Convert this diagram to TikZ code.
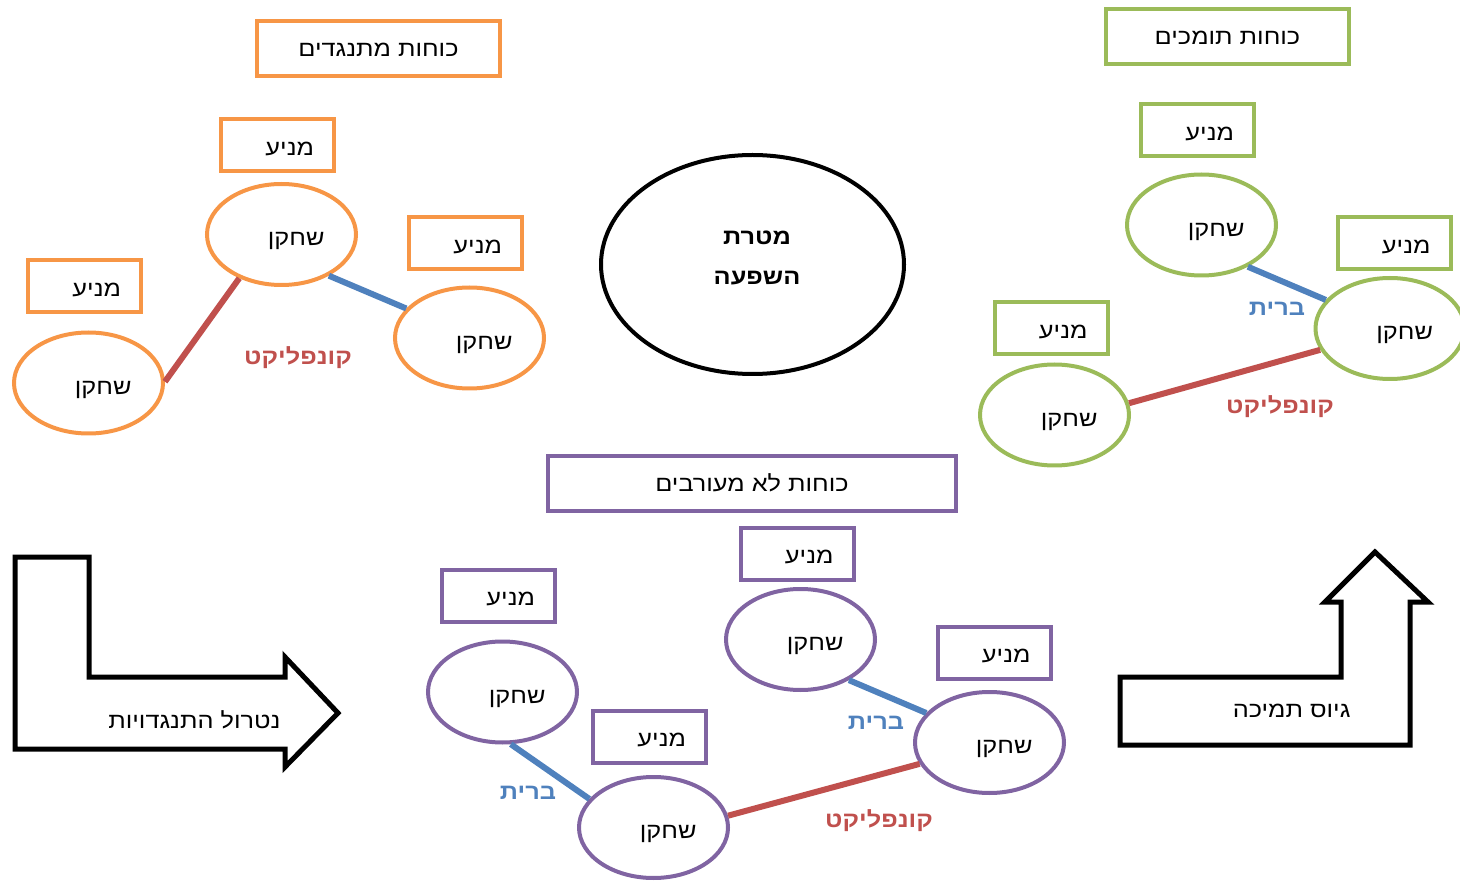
\documentclass[tikz,border=0pt]{standalone}
\usepackage{fontspec}
\setmainfont{Liberation Sans}
\newfontfamily\heb[Script=Hebrew,FakeStretch=1.15]{Liberation Sans}
\TeXXeTstate=1
\usetikzlibrary{shapes.geometric}
\definecolor{orng}{HTML}{F79646}
\definecolor{grn}{HTML}{9BBB59}
\definecolor{prp}{HTML}{8064A2}
\definecolor{conred}{HTML}{C0504D}
\definecolor{allyblue}{HTML}{4F81BD}
\begin{document}
\begin{tikzpicture}[x=1pt,y=-1pt,
  txt/.style={font=\heb\fontsize{22}{26}\selectfont},
  mbox/.style={draw=#1, line width=4pt, minimum width=113pt, minimum height=52pt,
     text width=73pt, align=right, inner xsep=20pt, inner ysep=0pt,
     text height=21pt, text depth=0.5pt, txt},
  tbox/.style={draw=#1, line width=4pt, minimum height=55pt, inner sep=0pt,
     text height=17pt, text depth=1.5pt, txt},
  player/.style={ellipse, draw=#1, line width=4pt, minimum width=149pt, minimum height=101pt,
     text width=86pt, align=right, inner sep=0pt, text height=23pt, text depth=0.5pt, txt},
  conflict/.style={draw=conred, line width=6pt},
  ally/.style={draw=allyblue, line width=6pt},
  conlbl/.style={font=\heb\bfseries\fontsize{22}{26}\selectfont, text=conred},
  allylbl/.style={font=\heb\bfseries\fontsize{22}{26}\selectfont, text=allyblue},
  bigarrow/.style={draw=black, line width=5pt, line join=miter, fill=white}
]
\useasboundingbox (0,0) rectangle (1460,882);
\clip (0,0) rectangle (1460,882);

% ---------- opposing forces (orange)
\node[tbox=orng, minimum width=243pt] (otitle) at (378.5,48.5) {\beginR כוחות מתנגדים\endR};
\node[mbox=orng] (om1) at (277.5,145) {\beginR מניע\endR};
\node[mbox=orng] (om2) at (465.5,243.5) {\beginR מניע\endR};
\node[mbox=orng] (om3) at (84.5,286.5) {\beginR מניע\endR};
\node[player=orng] (op1) at (281.5,234.5) {\beginR שחקן\endR};
\node[player=orng] (op2) at (469.5,338) {\beginR שחקן\endR};
\node[player=orng] (op3) at (88.5,383) {\beginR שחקן\endR};
\draw[conflict] (op1.226) -- (op3.1);
\draw[ally] (op1.319) -- (op2.155);
\node[conlbl] (oc) at (298,358) {\beginR קונפליקט\endR};

% ---------- centre
\node[ellipse, draw=black, line width=4pt, minimum width=303pt, minimum height=219pt] (goal) at (752.5,264.5) {};
\node[align=center, font=\heb\bfseries\fontsize{22}{40}\selectfont] (goaltext) at (757,257.5)
  {\beginR מטרת\endR\\\beginR השפעה\endR};

% ---------- supporting forces (green)
\node[tbox=grn, minimum width=243pt] (gtitle) at (1227.5,36.5) {\beginR כוחות תומכים\endR};
\node[mbox=grn] (gmA) at (1197.5,130.5) {\beginR מניע\endR};
\node[mbox=grn] (gmB) at (1394,243) {\beginR מניע\endR};
\node[mbox=grn] (gmC) at (1051,328.5) {\beginR מניע\endR};
\node[player=grn] (gpA) at (1201.5,225) {\beginR שחקן\endR};
\node[player=grn] (gpB) at (1390,328.5) {\beginR שחקן\endR};
\node[player=grn] (gpC) at (1054.5,415) {\beginR שחקן\endR};
\draw[ally] (gpA.318) -- (gpB.156);
\draw[conflict] (gpC.9) -- (gpB.197);
\node[allylbl] (ga) at (1277,309) {\beginR ברית\endR};
\node[conlbl] (gc) at (1280,407) {\beginR קונפליקט\endR};

% ---------- uninvolved forces (purple)
\node[tbox=prp, minimum width=408pt] (ptitle) at (752,483.5) {\beginR כוחות לא מעורבים\endR};
\node[mbox=prp] (pmT) at (797,553.5) {\beginR מניע\endR};
\node[mbox=prp] (pmR) at (994,652.5) {\beginR מניע\endR};
\node[mbox=prp] (pmL) at (498.5,595.5) {\beginR מניע\endR};
\node[mbox=prp] (pmB) at (649.5,736.5) {\beginR מניע\endR};
\node[player=prp] (ppT) at (800.5,639.5) {\beginR שחקן\endR};
\node[player=prp] (ppR) at (989.5,742.5) {\beginR שחקן\endR};
\node[player=prp] (ppL) at (502.5,692) {\beginR שחקן\endR};
\node[player=prp] (ppB) at (653.5,827.5) {\beginR שחקן\endR};
\draw[ally] (ppT.320) -- (ppR.155);
\draw[ally] (ppL.279) -- (ppB.156);
\draw[conflict] (ppB.9) -- (ppR.197);
\node[allylbl] (pa1) at (876,723) {\beginR ברית\endR};
\node[allylbl] (pa2) at (528,793) {\beginR ברית\endR};
\node[conlbl] (pc) at (879,821) {\beginR קונפליקט\endR};

% ---------- bent arrows
\draw[bigarrow] (15,557) -- (89,557) -- (89,677) -- (285,677) -- (285,657) -- (338,713)
  -- (285,767) -- (285,749) -- (15,749) -- cycle;
\node[txt, anchor=east] (neut) at (284,719.5) {\beginR נטרול התנגדויות\endR};

\draw[bigarrow] (1120,677) -- (1341,677) -- (1341,602) -- (1325,602) -- (1375,552)
  -- (1428,602) -- (1410,602) -- (1410,745) -- (1120,745) -- cycle;
\node[txt, anchor=east] (recr) at (1354,710.5) {\beginR גיוס תמיכה\endR};
\end{tikzpicture}
\end{document}
